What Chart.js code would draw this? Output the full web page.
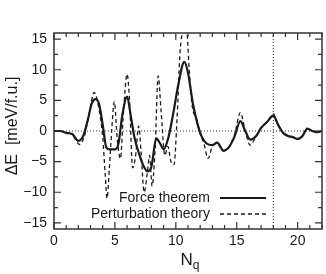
<!DOCTYPE html>
<html>
<head>
<meta charset="utf-8">
<script src="https://cdn.jsdelivr.net/npm/chart.js@4.4.1/dist/chart.umd.min.js"></script>
<style>
  html, body { margin: 0; padding: 0; background: #fff; }
</style>
</head>
<body>
<canvas id="chart" width="326" height="274"></canvas>
<script>
// data
const forceX = [0, 0.5, 1, 1.5, 2, 2.4, 2.8, 3.1, 3.4, 3.7, 4.0, 4.3, 4.6, 5.0, 5.3, 5.6, 6.0, 6.3, 6.6, 7.0, 7.3, 7.7, 8.0, 8.4, 8.7, 9.0, 9.4, 9.8, 10.2, 10.7, 11.0, 11.4, 11.8, 12.1, 12.5, 13.0, 13.4, 13.9, 14.3, 14.8, 15.3, 15.7, 16.1, 16.6, 17.0, 17.5, 18.0, 18.4, 18.8, 19.2, 19.6, 20.0, 20.4, 20.8, 21.2, 21.6, 22];
const forceY = [0, 0, -0.3, -0.5, -1.6, -0.8, 2.0, 4.5, 5.2, 4.4, 1.0, -2.7, -3.0, -3.0, -2.0, 2.5, 5.6, 2.5, -1.0, -3.8, -5.5, -6.6, -5.8, -1.2, -2.0, -3.0, -1.0, 3.0, 7.5, 11.3, 9.5, 4.5, 1.0, -0.8, -2.0, -2.3, -1.9, -3.2, -2.8, -1.0, 1.6, 0.0, -1.4, -0.8, 0.5, 1.5, 2.5, 1.0, -0.3, -0.8, -1.0, -1.3, -0.8, 0.4, 0.0, -0.2, 0.0];

const pertX = [0, 0.5, 1, 1.5, 2.1, 2.5, 2.9, 3.3, 3.7, 4.0, 4.2, 4.35, 4.55, 4.75, 4.95, 5.2, 5.45, 5.7, 6.0, 6.2, 6.45, 6.7, 6.95, 7.15, 7.4, 7.65, 7.85, 8.05, 8.3, 8.55, 8.8, 9.1, 9.35, 9.6, 9.85, 10.1, 10.35, 10.6, 10.85, 11.1, 11.35, 11.7, 12.0, 12.3, 12.65, 13.0, 13.4, 13.9, 14.3, 14.8, 15.3, 15.7, 16.1, 16.6, 17.0, 17.5, 18.0, 18.4, 18.8, 19.2, 19.6, 20.0, 20.4, 20.8, 21.2, 21.6, 22];
const pertY = [0, 0, -0.3, -0.6, -2.2, -0.8, 3.0, 6.3, 3.5, -1.0, -7.0, -11.0, -6.0, 0.5, 4.8, -1.5, -4.5, 3.0, 9.3, 5.0, -6.0, -4.0, 0.8, -3.5, -10.0, -7.0, -4.0, -9.0, -3.0, 9.0, 3.0, -4.0, -2.5, -5.0, -5.5, 2.0, 13.0, 16.5, 17.5, 10.0, 4.0, 2.0, -0.5, -2.0, -4.5, -2.5, -2.0, -3.3, -2.8, -0.8, 3.0, 0.0, -2.3, -0.8, 0.5, 1.5, 2.8, 1.0, -0.3, -0.8, -1.0, -1.3, -0.8, 0.4, 0.0, -0.2, 0.0];

const seriesNames = ["Force theorem", "Perturbation theory"];
const xTickLabels = [0, 5, 10, 15, 20];
const yTickLabels = [-15, -10, -5, 0, 5, 10, 15];
const markerX = 18;

const FONT = "'Liberation Sans', Arial, sans-serif";
const INK = '#1a1a1a';

function pts(xs, ys) {
  return xs.map((x, i) => ({ x: x, y: ys[i] }));
}

const decorPlugin = {
  id: 'decor',
  beforeDatasetsDraw(chart) {
    const { ctx, chartArea: a, scales: { x, y } } = chart;
    ctx.save();
    ctx.strokeStyle = '#333';
    ctx.lineWidth = 1;
    ctx.setLineDash([1, 2]);
    ctx.beginPath();
    const y0 = y.getPixelForValue(0);
    ctx.moveTo(a.left, y0);
    ctx.lineTo(a.right, y0);
    const xm = x.getPixelForValue(markerX);
    ctx.moveTo(xm, a.top);
    ctx.lineTo(xm, a.bottom);
    ctx.stroke();
    ctx.restore();
  },
  afterDraw(chart) {
    const { ctx, chartArea: a, scales: { x, y } } = chart;
    ctx.save();
    ctx.strokeStyle = '#333';
    ctx.lineWidth = 1.5;
    ctx.strokeRect(a.left, a.top, a.right - a.left, a.bottom - a.top);

    // inward ticks, all four sides
    ctx.lineWidth = 1.2;
    ctx.beginPath();
    for (let v = 0; v <= 22; v += 1) {
      const px = x.getPixelForValue(v);
      const len = v % 5 === 0 ? 7 : 4;
      ctx.moveTo(px, a.bottom); ctx.lineTo(px, a.bottom - len);
      ctx.moveTo(px, a.top); ctx.lineTo(px, a.top + len);
    }
    for (let v = -15; v <= 15; v += 2.5) {
      const py = y.getPixelForValue(v);
      const len = v % 5 === 0 ? 7 : 4;
      ctx.moveTo(a.left, py); ctx.lineTo(a.left + len, py);
      ctx.moveTo(a.right, py); ctx.lineTo(a.right - len, py);
    }
    ctx.stroke();

    // legend: text then line sample
    ctx.fillStyle = INK;
    ctx.font = '14px ' + FONT;
    ctx.textAlign = 'right';
    ctx.textBaseline = 'middle';
    const rows = [198, 214];
    chart.data.datasets.forEach((ds, i) => {
      ctx.fillText(ds.label, 210, rows[i]);
      ctx.save();
      ctx.strokeStyle = ds.borderColor;
      ctx.lineWidth = ds.borderWidth;
      ctx.setLineDash(ds.borderDash || []);
      ctx.beginPath();
      ctx.moveTo(220, rows[i]);
      ctx.lineTo(266, rows[i]);
      ctx.stroke();
      ctx.restore();
    });

    // axis titles
    ctx.textBaseline = 'alphabetic';
    ctx.font = '17px ' + FONT;
    const nW = ctx.measureText('N').width;
    ctx.font = '12px ' + FONT;
    const qW = ctx.measureText('q').width;
    const cx = (a.left + a.right) / 2 + 2;
    const startX = cx - (nW + qW) / 2;
    ctx.textAlign = 'left';
    ctx.font = '17px ' + FONT;
    ctx.fillText('N', startX, 265);
    ctx.font = '12px ' + FONT;
    ctx.fillText('q', startX + nW, 269);

    ctx.save();
    ctx.translate(17, (a.top + a.bottom) / 2 - 5);
    ctx.rotate(-Math.PI / 2);
    ctx.textAlign = 'center';
    ctx.font = '16px ' + FONT;
    ctx.fillText('\u0394E  [meV/f.u.]', 0, 0);
    ctx.restore();

    ctx.restore();
  }
};

new Chart(document.getElementById('chart'), {
  type: 'line',
  data: {
    datasets: [
      {
        label: seriesNames[0],
        data: pts(forceX, forceY),
        borderColor: INK,
        borderWidth: 2.2,
        pointRadius: 0,
        cubicInterpolationMode: 'monotone',
        fill: false
      },
      {
        label: seriesNames[1],
        data: pts(pertX, pertY),
        borderColor: INK,
        borderWidth: 1.3,
        borderDash: [4, 3],
        pointRadius: 0,
        cubicInterpolationMode: 'monotone',
        fill: false
      }
    ]
  },
  options: {
    responsive: false,
    animation: false,
    devicePixelRatio: 1,
    layout: { padding: { top: 33, right: 3, left: 0, bottom: 0 } },
    plugins: {
      legend: { display: false },
      tooltip: { enabled: false }
    },
    scales: {
      x: {
        type: 'linear',
        min: 0,
        max: 22,
        grid: { display: false, drawTicks: false },
        border: { display: false },
        ticks: {
          stepSize: 1,
          autoSkip: false,
          maxRotation: 0,
          padding: 4,
          color: INK,
          font: { family: FONT, size: 14 },
          callback: v => xTickLabels.includes(v) ? String(v) : ''
        },
        afterFit: s => { s.height = 45; }
      },
      y: {
        min: -16,
        max: 16,
        grid: { display: false, drawTicks: false },
        border: { display: false },
        ticks: {
          stepSize: 2.5,
          includeBounds: false,
          autoSkip: false,
          padding: 7,
          color: INK,
          font: { family: FONT, size: 14 },
          callback: v => yTickLabels.includes(v) ? String(v).replace('-', '\u2212') : ''
        },
        afterFit: s => { s.width = 54; }
      }
    }
  },
  plugins: [decorPlugin]
});
</script>
</body>
</html>
